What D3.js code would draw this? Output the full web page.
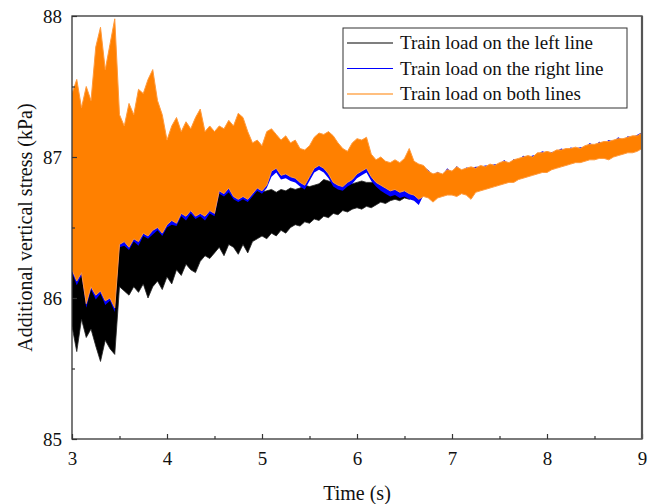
<!DOCTYPE html>
<html><head><meta charset="utf-8">
<script src="https://cdn.jsdelivr.net/npm/d3@7/dist/d3.min.js"></script>
<style>body{margin:0;background:#fff}svg{display:block}</style>
</head><body>
<svg id="chart" width="659" height="504"></svg>
<script>
// sample times (s), 0.05 s step from 3 to 9
const times = d3.range(121).map(i => +(3 + i * 0.05).toFixed(2));

// Train load on both lines (orange) – envelope
const bothHi = [87.45,87.55,87.35,87.50,87.40,87.78,87.92,87.62,87.80,87.98,
87.30,87.22,87.38,87.30,87.48,87.45,87.55,87.62,87.40,87.30,
87.12,87.22,87.28,87.18,87.25,87.20,87.28,87.34,87.18,87.22,
87.18,87.22,87.20,87.26,87.22,87.31,87.28,87.18,87.10,87.12,
87.08,87.18,87.20,87.16,87.12,87.15,87.10,87.12,87.06,87.05,
87.08,87.14,87.17,87.16,87.18,87.15,87.10,87.06,87.04,87.10,
87.13,87.12,87.14,87.02,86.98,87.00,86.97,86.96,86.98,86.96,
86.99,87.06,86.97,86.95,86.94,86.90,86.88,86.89,86.88,86.91,
86.90,86.93,86.91,86.92,86.93,86.92,86.94,86.93,86.95,86.94,
86.96,86.97,86.96,86.98,86.99,87.00,87.01,87.00,87.03,87.03,
87.04,87.03,87.05,87.05,87.06,87.06,87.07,87.06,87.08,87.09,
87.09,87.10,87.11,87.11,87.12,87.13,87.13,87.14,87.15,87.15,87.17];
const bothLo = [86.20,86.12,86.18,85.96,86.08,86.02,86.05,85.98,86.00,85.93,
86.38,86.40,86.36,86.42,86.40,86.46,86.44,86.48,86.50,86.46,
86.52,86.55,86.53,86.60,86.58,86.62,86.58,86.60,86.58,86.62,
86.60,86.76,86.74,86.78,86.72,86.70,86.72,86.70,86.74,86.78,
86.76,86.80,86.90,86.92,86.87,86.88,86.86,86.85,86.82,86.80,
86.86,86.92,86.94,86.92,86.88,86.82,86.80,86.79,86.82,86.84,
86.88,86.90,86.92,86.86,86.82,86.80,86.78,86.76,86.77,86.75,
86.76,86.74,86.73,86.70,86.72,86.71,86.68,86.71,86.72,86.73,
86.73,86.72,86.74,86.73,86.70,86.75,86.76,86.77,86.78,86.79,
86.80,86.81,86.82,86.82,86.84,86.85,86.86,86.87,86.88,86.89,
86.89,86.91,86.92,86.93,86.94,86.95,86.96,86.96,86.97,86.98,
86.98,86.99,86.99,86.98,87.00,87.01,87.02,87.03,87.03,87.04,87.06];

// Train load on the left line (black)
const leftHi = [86.30,86.25,86.28,86.10,86.20,86.15,86.20,86.10,86.15,86.05,
86.40,86.42,86.38,86.44,86.42,86.48,86.46,86.50,86.52,86.48,
86.54,86.57,86.55,86.62,86.60,86.64,86.60,86.62,86.60,86.64,
86.62,86.75,86.74,86.76,86.73,86.72,86.74,86.72,86.75,86.76,
86.75,86.76,86.77,86.75,86.77,86.76,86.78,86.77,86.78,86.80,
86.79,86.80,86.81,86.84,86.83,86.82,86.82,86.81,86.82,86.81,
86.82,86.83,86.82,86.82,86.83,86.82,86.82,86.83,86.82,86.84,
86.83,86.84,86.85,86.84,86.92,86.88,86.86,86.87,86.86,86.89,
86.88,86.91,86.89,86.90,86.91,86.90,86.92,86.91,86.93,86.92,
86.94,86.95,86.94,86.96,86.97,86.98,86.99,86.98,87.01,87.01,
87.02,87.01,87.03,87.03,87.04,87.04,87.05,87.04,87.06,87.07,
87.07,87.08,87.09,87.09,87.10,87.11,87.11,87.12,87.13,87.13,87.15];
const leftLo = [85.80,85.62,85.85,85.72,85.78,85.66,85.55,85.70,85.64,85.60,
86.08,86.05,86.02,86.08,86.04,86.10,86.00,86.08,86.12,86.06,
86.15,86.10,86.20,86.16,86.24,86.20,86.18,86.26,86.30,86.28,
86.32,86.36,86.30,86.38,86.36,86.31,86.38,86.32,86.40,86.42,
86.44,86.42,86.46,86.44,86.48,86.46,86.50,86.52,86.51,86.54,
86.53,86.56,86.55,86.58,86.57,86.60,86.59,86.62,86.61,86.63,
86.64,86.63,86.65,86.64,86.66,86.68,86.67,86.69,86.70,86.69,
86.71,86.70,86.72,86.72,86.74,86.73,86.70,86.73,86.74,86.75,
86.75,86.74,86.76,86.75,86.72,86.77,86.78,86.79,86.80,86.81,
86.82,86.83,86.84,86.84,86.86,86.87,86.88,86.89,86.90,86.91,
86.91,86.93,86.94,86.95,86.96,86.97,86.98,86.98,86.99,87.00,
87.00,87.01,87.01,87.00,87.02,87.03,87.04,87.05,87.05,87.06,87.08];

// Train load on the right line (blue) – visible trace
const rightHi = [86.23,86.15,86.21,85.99,86.11,86.05,86.08,86.01,86.03,85.96,
86.41,86.43,86.39,86.45,86.43,86.49,86.47,86.51,86.53,86.49,
86.55,86.58,86.56,86.63,86.61,86.65,86.61,86.63,86.61,86.65,
86.63,86.79,86.77,86.81,86.75,86.73,86.75,86.73,86.77,86.81,
86.79,86.83,86.92,86.94,86.89,86.90,86.88,86.87,86.84,86.82,
86.88,86.94,86.96,86.94,86.90,86.84,86.82,86.81,86.84,86.86,
86.90,86.92,86.94,86.88,86.84,86.82,86.80,86.78,86.79,86.77,
86.78,86.76,86.75,86.72,86.93,86.908,86.87,86.896,86.87,86.92,
86.89,86.936,86.90,86.926,86.92,86.93,86.93,86.94,86.94,86.948,
86.95,86.978,86.95,86.985,86.98,87.008,87.00,87.01,87.02,87.04,
87.03,87.036,87.04,87.06,87.05,87.068,87.06,87.07,87.07,87.10,
87.08,87.108,87.10,87.12,87.11,87.14,87.12,87.148,87.14,87.158,87.175];
const rightLo = [86.18,86.09,86.16,85.93,86.06,85.99,86.03,85.95,85.98,85.90,
86.36,86.37,86.34,86.40,86.37,86.44,86.42,86.45,86.48,86.44,
86.50,86.52,86.51,86.58,86.55,86.60,86.56,86.58,86.55,86.60,
86.58,86.74,86.72,86.75,86.70,86.68,86.70,86.68,86.72,86.76,
86.74,86.78,86.86,86.89,86.84,86.85,86.83,86.82,86.79,86.77,
86.83,86.89,86.91,86.89,86.85,86.79,86.77,86.76,86.79,86.81,
86.85,86.87,86.89,86.83,86.79,86.76,86.74,86.72,86.73,86.71,
86.72,86.70,86.69,86.66,86.73,86.72,86.70,86.72,86.73,86.74,
86.74,86.73,86.75,86.74,86.72,86.76,86.77,86.78,86.79,86.80,
86.81,86.82,86.83,86.83,86.85,86.86,86.87,86.88,86.89,86.90,
86.90,86.92,86.93,86.94,86.95,86.96,86.97,86.97,86.98,86.99,
86.99,87.00,87.00,86.99,87.01,87.02,87.03,87.04,87.04,87.05,87.07];

const xTicks = [3,4,5,6,7,8,9];
const xMinor = [3.5,4.5,5.5,6.5,7.5,8.5];
const yTicks = [85,86,87,88];
const yMinor = [85.5,86.5,87.5];

const seriesNames = ["Train load on the left line","Train load on the right line","Train load on both lines"];
const seriesColors = ["#000000","#0000ff","#ff8000"];
const edgeColors = ["#222222","#0000ff","#ff9a3c"];
const edgeWidths = [0.8, 0, 1.0];

const svg = d3.select("#chart");
const m = {l:72, r:17, t:16, b:65};
const W = 659, H = 504;
const x = d3.scaleLinear().domain([3,9]).range([m.l, W - m.r]);
const y = d3.scaleLinear().domain([85,88]).range([H - m.b, m.t]);
const font = "'Liberation Serif','Times New Roman',serif";

svg.append("defs").append("clipPath").attr("id","clip")
  .append("rect").attr("x",m.l).attr("y",m.t).attr("width",x(9)-x(3)).attr("height",y(85)-y(88));

const plot = svg.append("g").attr("clip-path","url(#clip)");
const area = d3.area().x(d=>x(d.t)).y0(d=>y(d.lo)).y1(d=>y(d.hi));
const mk = (hi, lo) => times.map((t,i)=>({t, hi:hi[i], lo:lo[i]}));
const data = [mk(leftHi,leftLo), mk(rightHi,rightLo), mk(bothHi,bothLo)];
data.forEach((d,k)=>{
  plot.append("path").datum(d).attr("d",area)
    .attr("fill",seriesColors[k])
    .attr("stroke",edgeWidths[k] ? edgeColors[k] : "none")
    .attr("stroke-width",edgeWidths[k]).attr("stroke-linejoin","miter");
});

// axes (ticks inward)
svg.append("g").attr("transform",`translate(0,${y(85)})`)
  .call(d3.axisBottom(x).tickValues(xTicks).tickSize(-5).tickPadding(13).tickFormat(d3.format("d")));
svg.append("g").attr("transform",`translate(0,${y(85)})`)
  .call(d3.axisBottom(x).tickValues(xMinor).tickSize(-3).tickFormat(""));
svg.append("g").attr("transform",`translate(${x(3)},0)`)
  .call(d3.axisLeft(y).tickValues(yTicks).tickSize(-5).tickPadding(10).tickFormat(d3.format("d")));
svg.append("g").attr("transform",`translate(${x(3)},0)`)
  .call(d3.axisLeft(y).tickValues(yMinor).tickSize(-3).tickFormat(""));
svg.selectAll(".tick text").attr("font-family",font).attr("font-size",19).attr("fill","#111");
svg.selectAll(".tick line").attr("stroke","#333").attr("stroke-width",1.2);
svg.selectAll(".domain").remove();

// frame
svg.append("rect").attr("x",x(3)).attr("y",y(88)).attr("width",x(9)-x(3)).attr("height",y(85)-y(88))
  .attr("fill","none").attr("stroke","#333").attr("stroke-width",1.3);
svg.append("line").attr("x1",x(9)).attr("x2",x(9)).attr("y1",y(88)).attr("y2",y(85))
  .attr("stroke","#555").attr("stroke-width",2.2);

// axis titles
svg.append("text").attr("x",(x(3)+x(9))/2).attr("y",500).attr("text-anchor","middle")
  .attr("font-family",font).attr("font-size",20).attr("fill","#111").text("Time (s)");
svg.append("text").attr("transform",`translate(32,${(y(85)+y(88))/2}) rotate(-90)`)
  .attr("text-anchor","middle").attr("font-family",font).attr("font-size",20).attr("fill","#111")
  .text("Additional vertical stress (kPa)");

// legend
const lg = svg.append("g");
lg.append("rect").attr("x",343).attr("y",28).attr("width",284).attr("height",80)
  .attr("fill","#fff").attr("stroke","#333").attr("stroke-width",1);
seriesNames.forEach((n,i)=>{
  const yy = 43 + i*25.5;
  lg.append("line").attr("x1",347).attr("x2",393).attr("y1",yy).attr("y2",yy)
    .attr("stroke",seriesColors[i]).attr("stroke-width",1.2);
  lg.append("text").attr("x",400).attr("y",yy).attr("dy","0.33em")
    .attr("font-family",font).attr("font-size",19).attr("fill","#111").text(n);
});
</script>
</body></html>
